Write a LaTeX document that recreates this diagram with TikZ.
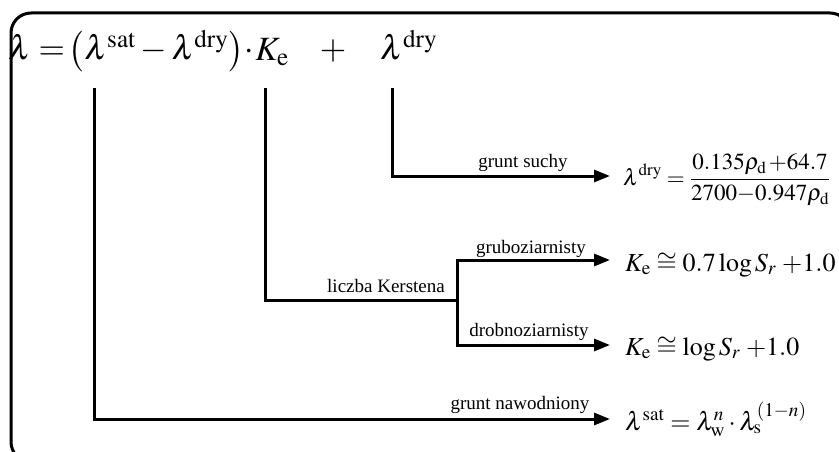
\documentclass[tikz,border=0pt]{standalone}
\usepackage{mathptmx}
\usepackage[no-math]{fontspec}
\setmainfont{Liberation Serif}
\usepackage{tikz}
\usetikzlibrary{arrows.meta, positioning, calc}

\begin{document}
\begin{tikzpicture}[x=1pt, y=-1pt]
  \tikzset{
    frame/.style={line width=3pt, rounded corners=20pt},
    conn/.style={line width=3pt},
    arr/.style={conn, -{Triangle[length=16pt,width=12pt]}},
    lbl/.style={font=\fontsize{19}{21}\selectfont, inner sep=0pt, anchor=base},
    eq/.style={font=\fontsize{26}{31}\selectfont, inner sep=0pt, anchor=base west},
    maineq/.style={font=\fontsize{34}{41}\selectfont, inner sep=0pt, anchor=base west}}

  \clip (0,0) rectangle (839,452);
  \draw[frame] (11,13) rectangle (850,462);

  % main relation
  \node[maineq] (lhs) at (8,60)
    {$\lambda\mkern4mu{=}\mkern2mu\bigl(\lambda^{\mathrm{sat}}-\lambda^{\mathrm{dry}}\bigr)\!\cdot\! K_{\mathrm{e}}$};
  \node[maineq, anchor=base] (plus) at (333,60) {$+$};
  \node[maineq] (ldry) at (380,60) {$\lambda^{\mathrm{dry}}$};

  \coordinate (satfoot) at (94,88);
  \coordinate (kefoot)  at (265,88);
  \coordinate (dryfoot) at (392,88);
  \coordinate (kbranch) at (457,300);

  \coordinate (drytip)    at (610,176);
  \coordinate (coarsetip) at (610,260);
  \coordinate (finetip)   at (610,345);
  \coordinate (sattip)    at (610,419);

  % branches
  \draw[arr]  (dryfoot) |- (drytip);
  \draw[conn] (kefoot)  |- (kbranch);
  \draw[arr]  (kbranch) |- (coarsetip);
  \draw[arr]  (kbranch) |- (finetip);
  \draw[arr]  (satfoot) |- (sattip);

  \node[lbl] (drylbl)    at (523,167) {grunt suchy};
  \node[lbl] (kerstlbl)  at (386,292) {liczba Kerstena};
  \node[lbl] (coarselbl) at (531,253) {gruboziarnisty};
  \node[lbl] (finelbl)   at (529,336) {drobnoziarnisty};
  \node[lbl] (satlbl)    at (520,409) {grunt nawodniony};

  % right-hand formulas
  \node[eq, font=\fontsize{23}{28}\selectfont] (dryeq) at (623,185)
    {$\displaystyle\lambda^{\mathrm{dry}}=\frac{0.135\rho_{\mathrm{d}}\,{+}64.7}{2700{-}0.947\rho_{\mathrm{d}}}$};
  \node[eq] (coarseeq) at (625,271)
    {$K_{\mathrm{e}}\cong0.7\log S_r\;{+}1.0$};
  \node[eq] (fineeq) at (625,355)
    {$K_{\mathrm{e}}\cong\log S_r\;{+}1.0$};
  \node[eq] (sateq) at (625,430)
    {$\lambda^{\mathrm{sat}}=\lambda_{\mathrm{w}}^{n}\cdot\lambda_{\mathrm{s}}^{(1-n)}$};
\end{tikzpicture}
\end{document}
